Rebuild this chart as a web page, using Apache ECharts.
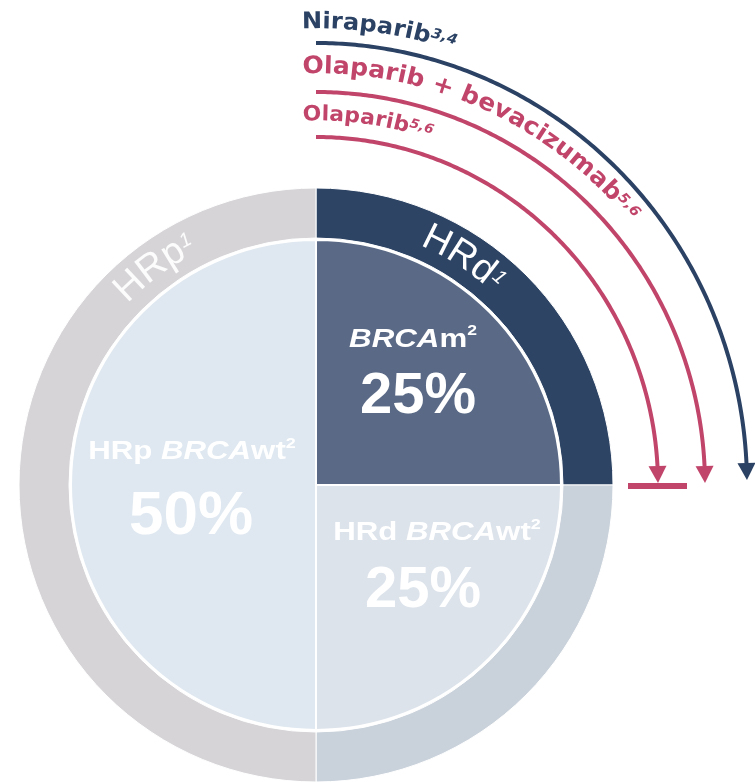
<!DOCTYPE html>
<html>
<head>
<meta charset="utf-8">
<script src="https://cdn.jsdelivr.net/npm/echarts@6/dist/echarts.min.js"></script>
<style>
  html, body { margin: 0; padding: 0; background: #ffffff; }
  #chart { width: 755px; height: 782px; }
</style>
</head>
<body>
<div id="chart"></div>
<script>
// Outer ring: homologous recombination status
const ringNames = ['HRd', 'HRd BRCAwt', 'HRp'];
const ringValues = [25, 25, 50];
const ringRefs = ['1', '', '1'];

// Inner pie: BRCA status within each HR group
const innerNames = ['BRCAm', 'HRd BRCAwt', 'HRp BRCAwt'];
const innerValues = [25, 25, 50];

// Maintenance therapies and the population each one covers
const therapies = ['Niraparib', 'Olaparib + bevacizumab', 'Olaparib'];
const therapyRefs = ['3,4', '5,6', '5,6'];

const CX = 316, CY = 485;
const R_IN = 245, R_RING0 = 247, R_RING1 = 297;
const SANS = '"Liberation Sans", Arial, sans-serif';
const ARC_FONT = '"DejaVu Sans", sans-serif';

const ringColors = ['#2d4465', '#c9d1db', '#d6d4d7'];
const innerColors = ['#5a6a86', '#dde3eb', '#dfe8f0'];
const NAVY = '#2b4265', PINK = '#c1456b';

const measureCtx = document.createElement('canvas').getContext('2d');
function fontStr(p, family) {
  return (p.italic ? 'italic ' : '') + (p.weight || 'normal') + ' ' + p.size + 'px ' + family;
}

// Lay text out glyph by glyph along an ellipse (t measured clockwise from 12 o'clock).
// With t0/t1 the glyphs are stretched along the path to fill it; with tc the text keeps
// its natural width and is centred on that angle.
function arcText(parts, o) {
  const glyphs = [];
  parts.forEach(p => {
    const f = fontStr(p, o.family);
    measureCtx.font = f;
    for (const ch of p.text) glyphs.push({ ch, p, f, w: measureCtx.measureText(ch).width });
  });
  const natural = glyphs.reduce((s, g) => s + g.w, 0);
  const a = o.a, b = o.b;
  let t0, t1, k = 1;
  if (o.tc != null) {
    const span = natural / ((a + b) / 2);
    t0 = o.tc * Math.PI / 180 - span / 2;
    t1 = o.tc * Math.PI / 180 + span / 2;
  } else {
    t0 = o.t0 * Math.PI / 180; t1 = o.t1 * Math.PI / 180;
  }
  const N = 2000, tbl = [0];
  for (let i = 1; i <= N; i++) {
    const ta = t0 + (t1 - t0) * (i - 1) / N, tb = t0 + (t1 - t0) * i / N;
    const dx = a * (Math.sin(tb) - Math.sin(ta)), dy = b * (Math.cos(tb) - Math.cos(ta));
    tbl.push(tbl[i - 1] + Math.hypot(dx, dy));
  }
  const L = tbl[N];
  if (o.tc == null) k = L / natural;
  function tAt(s) {
    let lo = 0, hi = N;
    while (hi - lo > 1) { const m = (lo + hi) >> 1; if (tbl[m] < s) lo = m; else hi = m; }
    return t0 + (t1 - t0) * lo / N;
  }
  const els = [];
  let s = 0;
  glyphs.forEach(g => {
    const w = g.w * k;
    const t = tAt(s + w / 2);
    const px = o.cx + a * Math.sin(t), py = o.cy - b * Math.cos(t);
    let nx = Math.sin(t) / a, ny = -Math.cos(t) / b;
    const nl = Math.hypot(nx, ny); nx /= nl; ny /= nl;
    const tx = a * Math.cos(t), ty = b * Math.sin(t);
    const lift = g.p.size * 0.34 + (g.p.rise || 0);
    els.push({
      type: 'text', silent: true, z: 100,
      x: px + nx * lift, y: py + ny * lift,
      rotation: -Math.atan2(ty, tx), scaleX: k,
      style: {
        text: g.ch, font: g.f, fill: o.color, opacity: o.opacity == null ? 1 : o.opacity,
        align: 'center', verticalAlign: 'middle', textAlign: 'center', textVerticalAlign: 'middle'
      }
    });
    s += w;
  });
  return els;
}

// Curved arrow following an ellipse from 12 o'clock down to a tip height
function arcArrow(a, b, yTip, color, width, head) {
  const tTip = Math.acos((CY - yTip) / b);
  const tEnd = Math.acos((CY - (yTip - head.len)) / b);
  const pts = [];
  const n = 200;
  for (let i = 0; i <= n; i++) {
    const t = tEnd * i / n;
    pts.push([CX + a * Math.sin(t), CY - b * Math.cos(t)]);
  }
  const tip = [CX + a * Math.sin(tTip), yTip];
  const base = pts[pts.length - 1];
  let dx = tip[0] - base[0], dy = tip[1] - base[1];
  const dl = Math.hypot(dx, dy); dx /= dl; dy /= dl;
  const hw = head.w / 2;
  return [
    { type: 'polyline', silent: true, z: 90, shape: { points: pts },
      style: { stroke: color, lineWidth: width, fill: null, lineCap: 'butt' } },
    { type: 'polygon', silent: true, z: 91,
      shape: { points: [tip, [base[0] - dy * hw, base[1] + dx * hw], [base[0] + dy * hw, base[1] - dx * hw]] },
      style: { fill: color } }
  ];
}

const arcSpecs = [
  { a: 431, b: 442, yTip: 480, color: NAVY, size: 23, t0: -1.8, t1: 18.0, off: 13 },
  { a: 389, b: 393, yTip: 483, color: PINK, size: 24, t0: -1.9, t1: 50.3, off: 17 },
  { a: 342, b: 348, yTip: 483, color: PINK, size: 21, t0: -2.1, t1: 18.6, off: 15 }
];

const graphics = [];
arcSpecs.forEach((sp, i) => {
  graphics.push(...arcArrow(sp.a, sp.b, sp.yTip, sp.color, 4, { len: 17, w: 18 }));
  graphics.push(...arcText([
    { text: therapies[i], size: sp.size, weight: 'bold' },
    { text: therapyRefs[i], size: Math.round(sp.size * 0.6), weight: 'bold', italic: true, rise: sp.size * 0.3 }
  ], { cx: CX, cy: CY, a: sp.a + sp.off, b: sp.b + sp.off, t0: sp.t0, t1: sp.t1, color: sp.color, family: ARC_FONT }));
});

// Stop bar under the olaparib arrow
graphics.push({ type: 'rect', silent: true, z: 92,
  shape: { x: 628, y: 483, width: 59, height: 6 }, style: { fill: PINK } });

// Ring captions
const ringTextR = 259;
graphics.push(...arcText([
  { text: ringNames[0], size: 38 }, { text: ringRefs[0], size: 20, italic: true, rise: 11 }
], { cx: CX, cy: CY, a: ringTextR, b: ringTextR, tc: 33, color: '#ffffff', family: SANS }));
graphics.push(...arcText([
  { text: ringNames[2], size: 38 }, { text: ringRefs[2], size: 20, italic: true, rise: 11 }
], { cx: CX, cy: CY, a: ringTextR, b: ringTextR, tc: -36.5, color: '#ffffff', family: SANS, opacity: 0.92 }));

// Slice captions inside the pie
const capRich = (size) => ({
  n: { fontFamily: SANS, fontWeight: 'bold', fontSize: size, fill: '#ffffff', color: '#ffffff', lineHeight: size + 6 },
  i: { fontFamily: SANS, fontWeight: 'bold', fontStyle: 'italic', fontSize: size, fill: '#ffffff', color: '#ffffff', lineHeight: size + 6 },
  s: { fontFamily: SANS, fontWeight: 'bold', fontSize: Math.round(size * 0.58), fill: '#ffffff', color: '#ffffff', verticalAlign: 'top', lineHeight: size + 6 }
});
function caption(text, x, y, size, sx) {
  return { type: 'text', silent: true, z: 50, x: x, y: y, scaleX: sx || 1,
    style: { text: text, rich: capRich(size), fill: '#ffffff', align: 'center', verticalAlign: 'middle',
      textAlign: 'center', textVerticalAlign: 'middle' } };
}
function pct(v, x, y, size) {
  return { type: 'text', silent: true, z: 50, x: x, y: y,
    style: { text: v + '%', font: 'bold ' + size + 'px ' + SANS, fill: '#ffffff',
      align: 'center', verticalAlign: 'middle', textAlign: 'center', textVerticalAlign: 'middle' } };
}
graphics.push(caption('{i|BRCA}{n|m}{s|2}', 413, 340, 25, 1.25));
graphics.push(pct(innerValues[0], 418, 397, 58));
graphics.push(caption('{n|HRd }{i|BRCA}{n|wt}{s|2}', 437, 533, 26, 1.2));
graphics.push(pct(innerValues[1], 423, 591, 58));
graphics.push(caption('{n|HRp }{i|BRCA}{n|wt}{s|2}', 192, 452, 26, 1.2));
graphics.push(pct(innerValues[2], 191, 517, 62));

const chart = echarts.init(document.getElementById('chart'), null, { renderer: 'canvas' });
chart.setOption({
  backgroundColor: '#ffffff',
  animation: false,
  series: [
    {
      type: 'pie', center: [CX, CY], radius: [R_RING0, R_RING1], startAngle: 90, clockwise: true,
      silent: true, label: { show: false }, labelLine: { show: false },
      itemStyle: { borderColor: '#ffffff', borderWidth: 1 },
      data: ringNames.map((n, i) => ({ name: n, value: ringValues[i], itemStyle: { color: ringColors[i] } }))
    },
    {
      type: 'pie', center: [CX, CY], radius: [0, R_IN], startAngle: 90, clockwise: true,
      silent: true, label: { show: false }, labelLine: { show: false },
      itemStyle: { borderColor: '#ffffff', borderWidth: 2 },
      data: innerNames.map((n, i) => ({ name: n, value: innerValues[i], itemStyle: { color: innerColors[i] } }))
    }
  ],
  graphic: { elements: graphics }
});
</script>
</body>
</html>
